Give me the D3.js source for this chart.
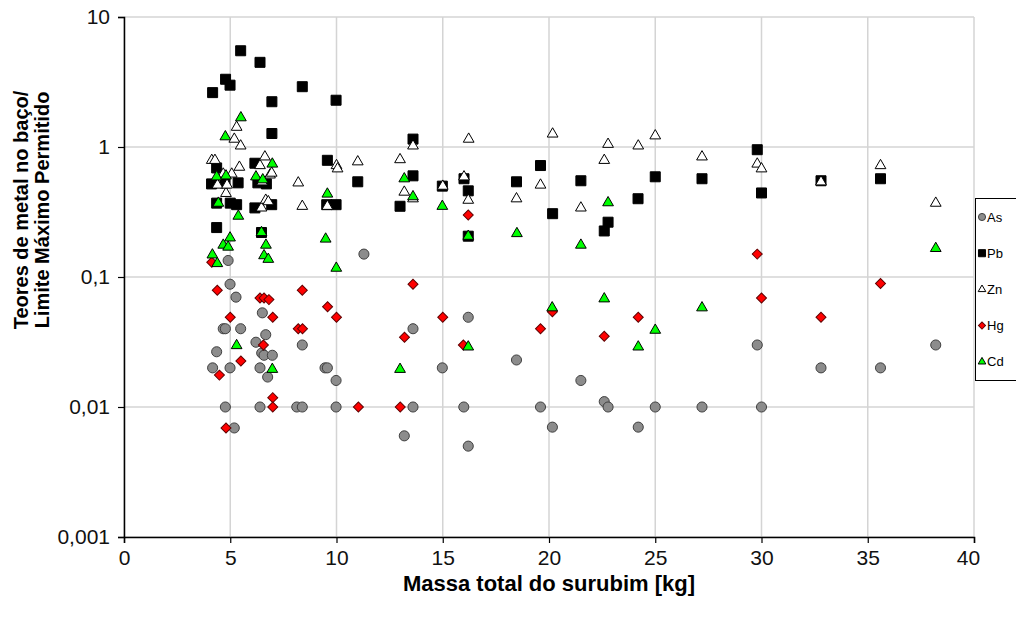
<!DOCTYPE html>
<html>
<head>
<meta charset="utf-8">
<script src="https://cdn.jsdelivr.net/npm/d3@7"></script>
<style>
  body { margin: 0; background: #fff; }
  svg text { font-family: "Liberation Sans", Arial, sans-serif; }
</style>
</head>
<body>
<div id="chart"></div>
<script>
// [massa kg, teor / limite]
const asPoints = [[4.17,0.020],[4.36,0.0266],[4.67,0.040],[4.77,0.040],[4.77,0.010],[4.9,0.134],[4.99,0.088],[4.99,0.020],[5.19,0.0069],[5.27,0.070],[5.49,0.040],[6.21,0.0315],[6.4,0.020],[6.4,0.010],[6.48,0.026],[6.51,0.053],[6.59,0.025],[6.67,0.036],[6.76,0.017],[6.98,0.025],[8.13,0.010],[8.39,0.030],[8.39,0.010],[9.46,0.020],[9.57,0.020],[9.98,0.016],[9.98,0.010],[11.29,0.150],[13.19,0.006],[13.6,0.040],[13.6,0.010],[14.98,0.020],[15.99,0.010],[16.2,0.049],[16.2,0.005],[18.47,0.023],[19.6,0.010],[20.16,0.007],[21.5,0.016],[22.6,0.011],[22.78,0.010],[24.2,0.007],[25.0,0.010],[27.2,0.010],[29.8,0.030],[30.0,0.010],[32.8,0.020],[35.6,0.020],[38.2,0.030]];
const pbPoints = [[4.12,0.52],[4.17,2.62],[4.36,0.69],[4.36,0.37],[4.36,0.24],[4.78,3.32],[4.75,0.53],[4.99,2.99],[5.0,0.37],[5.3,0.36],[5.37,0.53],[5.49,5.5],[6.16,0.75],[6.16,0.34],[6.3,0.53],[6.4,4.48],[6.47,0.22],[6.7,0.52],[6.95,0.36],[6.96,2.23],[6.96,1.27],[8.39,2.91],[9.54,0.36],[9.57,0.79],[9.98,2.29],[9.98,0.36],[11.0,0.54],[12.99,0.35],[13.6,1.15],[13.6,0.60],[14.98,0.50],[16.0,0.57],[16.2,0.46],[16.2,0.206],[18.47,0.54],[19.6,0.72],[20.17,0.307],[21.5,0.55],[22.6,0.226],[22.78,0.264],[24.19,0.40],[25.0,0.59],[27.2,0.57],[29.8,0.953],[30.0,0.443],[32.8,0.55],[35.6,0.57]];
const znPoints = [[4.13,0.79],[4.28,0.79],[4.4,0.51],[4.67,0.62],[4.8,0.44],[4.85,0.51],[5.07,0.62],[5.19,1.15],[5.3,1.42],[5.43,0.70],[5.49,1.02],[6.4,0.72],[6.47,0.34],[6.5,0.54],[6.63,0.84],[6.67,0.39],[6.79,0.38],[6.87,0.61],[6.95,0.63],[8.2,0.53],[8.39,0.35],[9.57,0.35],[10.0,0.72],[10.05,0.68],[11.0,0.77],[12.99,0.80],[13.19,0.45],[13.6,1.02],[13.6,0.40],[15.0,0.50],[16.0,0.59],[16.22,1.15],[16.2,0.39],[18.47,0.40],[19.6,0.51],[20.17,1.26],[21.5,0.34],[22.6,0.79],[22.78,1.05],[24.2,1.02],[25.0,1.22],[27.2,0.84],[29.8,0.74],[30.0,0.68],[32.8,0.54],[35.6,0.72],[38.2,0.37]];
const hgPoints = [[4.13,0.13],[4.39,0.079],[4.49,0.0176],[4.8,0.0069],[5.0,0.049],[5.5,0.0226],[6.4,0.069],[6.56,0.030],[6.59,0.069],[6.82,0.067],[7.0,0.049],[7.0,0.0118],[7.0,0.010],[8.2,0.040],[8.39,0.079],[8.4,0.040],[9.58,0.059],[10.0,0.049],[11.03,0.010],[13.0,0.010],[13.2,0.0344],[13.6,0.088],[15.0,0.049],[15.97,0.030],[16.2,0.30],[19.6,0.040],[20.16,0.054],[22.6,0.035],[24.2,0.049],[29.8,0.15],[30.0,0.069],[32.8,0.049],[35.6,0.089]];
const cdPoints = [[4.16,0.148],[4.39,0.127],[4.36,0.59],[4.44,0.37],[4.67,0.176],[4.77,1.2],[4.8,0.6],[4.9,0.17],[4.99,0.2],[5.3,0.0297],[5.38,0.294],[5.5,1.68],[6.21,0.59],[6.47,0.22],[6.53,0.56],[6.59,0.146],[6.68,0.176],[6.79,0.137],[6.98,0.74],[6.98,0.0195],[9.49,0.196],[9.57,0.435],[9.99,0.117],[12.99,0.0195],[13.19,0.57],[13.6,0.415],[14.98,0.35],[16.2,0.206],[16.2,0.029],[18.49,0.216],[20.15,0.058],[21.5,0.176],[22.6,0.068],[22.78,0.373],[24.2,0.029],[25.0,0.039],[27.2,0.058],[38.2,0.166]];

const seriesNames = ["As", "Pb", "Zn", "Hg", "Cd"];
const xTicks = [0, 5, 10, 15, 20, 25, 30, 35, 40];
const yTicks = [0.001, 0.01, 0.1, 1, 10];
const yTickLabels = ["0,001", "0,01", "0,1", "1", "10"];

var width = 1016, height = 626;
var margin = {left: 124, top: 17, right: 42, bottom: 89};
var plotW = width - margin.left - margin.right,
    plotH = height - margin.top - margin.bottom;

const svg = d3.select("#chart").append("svg")
    .attr("width", width)
    .attr("height", height);

const x = d3.scaleLinear().domain([0, 40]).range([margin.left, margin.left + plotW]);
const y = d3.scaleLog().domain([0.001, 10]).range([margin.top + plotH, margin.top]);

// gridlines
svg.append("g").selectAll("line").data(yTicks).enter().append("line")
    .attr("x1", x(0)).attr("x2", x(40))
    .attr("y1", d => y(d)).attr("y2", d => y(d))
    .attr("stroke", "#d4d4d4").attr("stroke-width", 1.5);
svg.append("g").selectAll("line").data(xTicks).enter().append("line")
    .attr("x1", d => x(d)).attr("x2", d => x(d))
    .attr("y1", y(10)).attr("y2", y(0.001))
    .attr("stroke", "#d4d4d4").attr("stroke-width", 1.5);

// axes
const xAxis = svg.append("g")
    .attr("transform", "translate(0," + y(0.001) + ")")
    .call(d3.axisBottom(x).tickValues(xTicks).tickSize(6).tickPadding(7).tickFormat(d3.format("d")));
const yAxis = svg.append("g")
    .attr("transform", "translate(" + x(0) + ",0)")
    .call(d3.axisLeft(y).tickValues(yTicks).tickSize(6).tickPadding(8)
      .tickFormat((d, i) => yTickLabels[i]));
[xAxis, yAxis].forEach(function(a) {
  a.select(".domain").attr("stroke", "#000").attr("stroke-width", 1.5);
  a.selectAll(".tick line").attr("stroke", "#000").attr("stroke-width", 1.2);
  a.selectAll(".tick text").attr("font-size", 21).attr("fill", "#111")
    .attr("font-family", "'Liberation Sans', Arial, sans-serif");
});
xAxis.select(".tick:last-of-type text").attr("dx", -6);

// titles
svg.append("text")
    .attr("x", 549).attr("y", 591)
    .attr("text-anchor", "middle")
    .attr("font-size", 22).attr("font-weight", "bold")
    .text("Massa total do surubim [kg]");
const yTitle = svg.append("text")
    .attr("transform", "translate(0,210) rotate(-90)")
    .attr("text-anchor", "middle")
    .attr("font-size", 20).attr("font-weight", "bold");
yTitle.append("tspan").attr("x", 0).attr("y", 28).text("Teores de metal no baço/");
yTitle.append("tspan").attr("x", 0).attr("y", 49).text("Limite Máximo Permitido");

// marker styles
const styles = {
  As: {type: d3.symbolCircle, size: 80, fill: "#8c8c8c", stroke: "#404040", rot: 0},
  Pb: {type: d3.symbolSquare, size: 100, fill: "#000", stroke: "#000", rot: 0},
  Zn: {type: d3.symbolTriangle, size: 50, fill: "#fff", stroke: "#000", rot: 0},
  Hg: {type: d3.symbolSquare, size: 50, fill: "#ff0000", stroke: "#600000", rot: 45},
  Cd: {type: d3.symbolTriangle, size: 50, fill: "#00ff00", stroke: "#000", rot: 0}
};
const seriesData = {As: asPoints, Pb: pbPoints, Zn: znPoints, Hg: hgPoints, Cd: cdPoints};

seriesNames.forEach(function(name) {
  var s = styles[name];
  svg.append("g").selectAll("path")
    .data(seriesData[name]).enter()
    .append("path")
    .attr("d", d3.symbol().type(s.type).size(s.size))
    .attr("transform", d => "translate(" + x(d[0]) + "," + y(d[1]) + ") rotate(" + s.rot + ")")
    .attr("fill", s.fill)
    .attr("stroke", s.stroke)
    .attr("stroke-width", 1);
});

// legend
const legend = svg.append("g");
legend.append("rect")
    .attr("x", 975.5).attr("y", 198.5)
    .attr("width", 60).attr("height", 182)
    .attr("fill", "#fff").attr("stroke", "#000").attr("stroke-width", 1);
seriesNames.forEach(function(name, i) {
  var s = styles[name];
  var ly = 217 + i * 36.2;
  legend.append("path")
    .attr("d", d3.symbol().type(s.type).size(s.size * 0.5))
    .attr("transform", "translate(982," + ly + ") rotate(" + s.rot + ")")
    .attr("fill", s.fill).attr("stroke", s.stroke).attr("stroke-width", 1);
  legend.append("text")
    .attr("x", 987).attr("y", ly)
    .attr("dy", "0.35em")
    .attr("font-size", 13)
    .text(name);
});
</script>
</body>
</html>
